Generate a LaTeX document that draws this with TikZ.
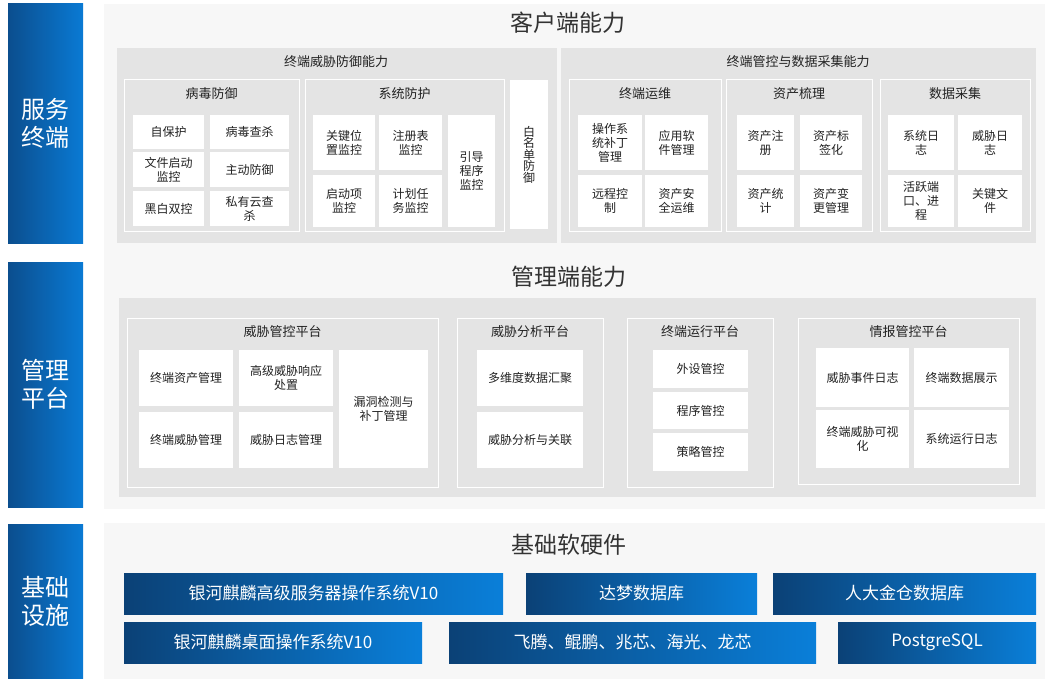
\documentclass[tikz,border=0pt]{standalone}
\usepackage{fontspec}
\setmainfont{Noto Sans CJK SC}
\definecolor{panelc}{HTML}{F7F7F7}
\definecolor{grayc}{HTML}{E4E4E4}
\definecolor{txtc}{HTML}{222222}
\definecolor{titc}{HTML}{333333}
\definecolor{barL}{HTML}{0B4E8E}
\definecolor{barR}{HTML}{0A7AD4}
\definecolor{botL}{HTML}{0B4176}
\definecolor{botR}{HTML}{0A7FD9}
\newcommand\rbox[7]{\node[#1, minimum width={(#5-#3)*1pt}, minimum height={(#6-#4)*1pt}] (#2) at ({(#3+#5)/2},{(#4+#6)/2}) {#7};}
\tikzset{
  every node/.style={inner sep=0pt, outer sep=0pt, align=center},
  sidebar/.style={left color=barL, right color=barR, draw=none, text=white, font=\fontsize{24}{28}\selectfont},
  panel/.style={fill=panelc, draw=none},
  container/.style={fill=grayc, draw=none},
  group/.style={fill=grayc, draw=white, line width=1pt},
  wbox/.style={fill=white, draw=none, text=txtc, font=\fontsize{12}{14}\selectfont},
  botbox/.style={left color=botL, right color=botR, draw=none, text=white, font=\fontsize{17}{20}\selectfont},
  bigtitle/.style={text=titc, font=\fontsize{23}{26}\selectfont},
  gtitle/.style={text=txtc, font=\fontsize{13}{15}\selectfont},
}
\begin{document}
\begin{tikzpicture}[x=1pt,y=-1pt]
\useasboundingbox (0,0) rectangle (1047,685);
\fill[white] (0,0) rectangle (1047,685);
% side bars
\rbox{sidebar}{bar1}{8}{4}{83}{243}{服务\\终端}
\rbox{sidebar}{bar2}{8}{262}{83}{507}{管理\\平台}
\rbox{sidebar}{bar3}{8}{524}{83}{678}{基础\\设施}
% panels
\rbox{panel}{p1}{104}{4}{1045}{250}{}
\rbox{panel}{p2}{104}{250}{1045}{509}{}
\rbox{panel}{p3}{104}{523}{1045}{679}{}
\node[bigtitle] (t1) at (568,23) {客户端能力};
\node[bigtitle] (t2) at (569,277) {管理端能力};
\node[bigtitle] (t3) at (569,545) {基础软硬件};
% containers
\rbox{container}{g1}{117}{48}{557}{243}{}
\rbox{container}{g2}{561}{48}{1036}{243}{}
\rbox{container}{g3}{119}{298}{1036}{497}{}
\node[gtitle] (g1t) at (336,62) {终端威胁防御能力};
\node[gtitle] (g2t) at (798,62) {终端管控与数据采集能力};
% client groups
\rbox{group}{s1}{124}{80}{299}{231}{}
\rbox{group}{s2}{305}{80}{504}{231}{}
\rbox{group}{s3}{569}{80}{721}{231}{}
\rbox{group}{s4}{726}{80}{872}{231}{}
\rbox{group}{s5}{880}{80}{1030}{231}{}
\node[gtitle] at (211.5,94) {病毒防御};
\node[gtitle] at (404.5,94) {系统防护};
\node[gtitle] at (645,94) {终端运维};
\node[gtitle] at (799,94) {资产梳理};
\node[gtitle] at (955,94) {数据采集};
% 病毒防御
\rbox{wbox}{a1}{133}{115}{204}{149}{自保护}
\rbox{wbox}{a2}{210}{115}{289}{149}{病毒查杀}
\rbox{wbox}{a3}{133}{152}{204}{187}{文件启动\\监控}
\rbox{wbox}{a4}{210}{152}{289}{187}{主动防御}
\rbox{wbox}{a5}{133}{191}{204}{226}{黑白双控}
\rbox{wbox}{a6}{210}{191}{289}{226}{私有云查\\杀}
% 系统防护
\rbox{wbox}{b1}{313}{115}{375}{170}{关键位\\置监控}
\rbox{wbox}{b2}{379}{115}{442}{170}{注册表\\监控}
\rbox{wbox}{b3}{313}{175}{375}{227}{启动项\\监控}
\rbox{wbox}{b4}{379}{175}{442}{227}{计划任\\务监控}
\rbox{wbox}{b5}{448}{115}{495}{227}{引导\\程序\\监控}
\rbox{wbox,font=\fontsize{12}{11.5}\selectfont}{wl}{510}{80}{548}{229}{白\\名\\单\\防\\御}
% 终端运维
\rbox{wbox}{c1}{578}{115}{642}{170}{操作系\\统补丁\\管理}
\rbox{wbox}{c2}{645}{115}{708}{170}{应用软\\件管理}
\rbox{wbox}{c3}{578}{175}{642}{227}{远程控\\制}
\rbox{wbox}{c4}{645}{175}{708}{227}{资产安\\全运维}
% 资产梳理
\rbox{wbox}{d1}{737}{115}{794}{170}{资产注\\册}
\rbox{wbox}{d2}{800}{115}{862}{170}{资产标\\签化}
\rbox{wbox}{d3}{737}{175}{794}{227}{资产统\\计}
\rbox{wbox}{d4}{800}{175}{862}{227}{资产变\\更管理}
% 数据采集
\rbox{wbox}{e1}{888}{115}{954}{170}{系统日\\志}
\rbox{wbox}{e2}{958}{115}{1022}{170}{威胁日\\志}
\rbox{wbox}{e3}{888}{175}{954}{227}{活跃端\\口、进\\程}
\rbox{wbox}{e4}{958}{175}{1022}{227}{关键文\\件}
% management groups
\rbox{group}{m1}{127}{318}{438}{487}{}
\rbox{group}{m2}{457}{318}{603}{487}{}
\rbox{group}{m3}{627}{318}{773}{487}{}
\rbox{group}{m4}{798}{318}{1019}{484}{}
\node[gtitle] at (282.5,332) {威胁管控平台};
\node[gtitle] at (530,332) {威胁分析平台};
\node[gtitle] at (700,332) {终端运行平台};
\node[gtitle] at (908.5,332) {情报管控平台};
% 威胁管控平台
\rbox{wbox}{f1}{139}{350}{233}{406}{终端资产管理}
\rbox{wbox}{f2}{239}{350}{333}{406}{高级威胁响应\\处置}
\rbox{wbox}{f3}{139}{412}{233}{468}{终端威胁管理}
\rbox{wbox}{f4}{239}{412}{333}{468}{威胁日志管理}
\rbox{wbox}{f5}{339}{350}{428}{468}{漏洞检测与\\补丁管理}
% 威胁分析平台
\rbox{wbox}{h1}{477}{350}{583}{406}{多维度数据汇聚}
\rbox{wbox}{h2}{477}{412}{583}{468}{威胁分析与关联}
% 终端运行平台
\rbox{wbox}{k1}{653}{350}{748}{388}{外设管控}
\rbox{wbox}{k2}{653}{392}{748}{429}{程序管控}
\rbox{wbox}{k3}{653}{433}{748}{471}{策略管控}
% 情报管控平台
\rbox{wbox}{n1}{816}{348}{909}{407}{威胁事件日志}
\rbox{wbox}{n2}{914}{348}{1009}{407}{终端数据展示}
\rbox{wbox}{n3}{816}{410}{909}{468}{终端威胁可视\\化}
\rbox{wbox}{n4}{914}{410}{1009}{468}{系统运行日志}
% infrastructure
\rbox{botbox}{i1}{124}{573}{503}{614}{银河麒麟高级服务器操作系统V10}
\rbox{botbox}{i2}{526}{573}{757}{614}{达梦数据库}
\rbox{botbox}{i3}{773}{573}{1036}{614}{人大金仓数据库}
\rbox{botbox}{i4}{124}{622}{422}{663}{银河麒麟桌面操作系统V10}
\rbox{botbox}{i5}{449}{622}{816}{663}{飞腾、鲲鹏、兆芯、海光、龙芯}
\rbox{botbox}{i6}{838}{622}{1036}{663}{PostgreSQL}
\end{tikzpicture}
\end{document}
